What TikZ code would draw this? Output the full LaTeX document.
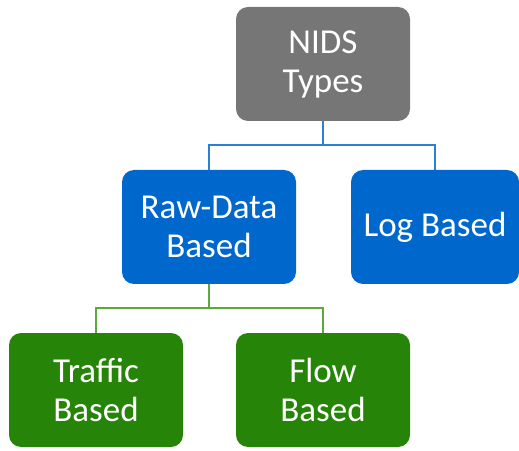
\documentclass[tikz,border=0pt]{standalone}
\usepackage{fontspec}
\setmainfont{Carlito}
\usetikzlibrary{positioning, calc}

\definecolor{rootgray}{HTML}{767676}
\definecolor{midblue}{HTML}{0067CC}
\definecolor{leafgreen}{HTML}{268508}
\definecolor{linkblue}{HTML}{2B80D6}
\definecolor{linkgreen}{HTML}{5CA83A}

\begin{document}
\begin{tikzpicture}[x=1pt, y=1pt]
		\tikzset{
			box/.style={rounded corners=12pt, align=center, text=white, minimum height=114pt, minimum width=174pt, inner sep=0pt,
				font=\fontsize{35}{39}\selectfont},
			rootbox/.style={box, fill=rootgray},
			midbox/.style={box, fill=midblue},
			leafbox/.style={box, fill=leafgreen},
			bluelink/.style={draw=linkblue, line width=2pt},
			greenlink/.style={draw=linkgreen, line width=1.6pt}
		}
		\useasboundingbox (0,0) rectangle (519,450);
		
		% Root node
		\node[rootbox] (nids) at (323,386) {NIDS\\Types};
		
		% Second level
		\node[midbox] (raw) at (209,223) {Raw-Data\\Based};
		\node[midbox, minimum width=168pt] (log) at (435,223) {Log Based};
		
		% Leaves
		\node[leafbox] (traffic) at (96,60) {Traffic\\Based};
		\node[leafbox] (flow) at (323,60) {Flow\\Based};
		
		% Connectors
		\coordinate (bluebar) at ($(nids.south)+(0,-24)$);
		\draw[bluelink] (nids.south) -- (bluebar) -| (raw.north);
		\draw[bluelink] (bluebar) -| (log.north);
		
		\coordinate (greenbar) at ($(raw.south)+(0,-24)$);
		\draw[greenlink] (raw.south) -- (greenbar) -| (traffic.north);
		\draw[greenlink] (greenbar) -| (flow.north);
		
	\end{tikzpicture}
\end{document}
